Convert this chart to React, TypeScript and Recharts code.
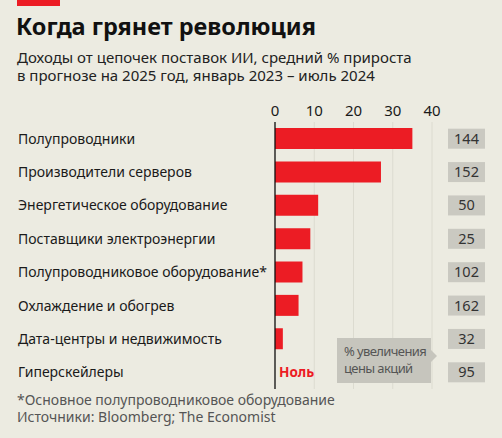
import React from 'react';
import { BarChart, Bar, XAxis, YAxis, CartesianGrid, ReferenceLine } from 'recharts';

const categories = [
  'Полупроводники',
  'Производители серверов',
  'Энергетическое оборудование',
  'Поставщики электроэнергии',
  'Полупроводниковое оборудование*',
  'Охлаждение и обогрев',
  'Дата-центры и недвижимость',
  'Гиперскейлеры',
];
const revenueGrowth = [35, 27, 11, 9, 7, 6, 2, 0];
const sharePriceIncrease = [144, 152, 50, 25, 102, 162, 32, 95];
const xTicks = [0, 10, 20, 30, 40];

const data = categories.map((name, i) => ({
  name,
  growth: revenueGrowth[i],
  shares: sharePriceIncrease[i],
}));

const FONT = '"Noto Sans", "Open Sans", sans-serif';
const RED = '#ec1c24';
const BG = '#ecebe1';
const PLOT_LEFT = 275;

function CategoryTick(props: any) {
  const { y, payload } = props;
  return (
    <text x={18} y={y} dy={5} fontSize={14} fill="#1a1a1a" fontFamily={FONT} textAnchor="start">
      {payload.value}
    </text>
  );
}

function ValueTick(props: any) {
  const { x, payload } = props;
  return (
    <text x={x} y={116} fontSize={15} fill="#1a1a1a" fontFamily={FONT} textAnchor="middle">
      {payload.value}
    </text>
  );
}

// right-hand axis: grey share-price boxes, plus the "Ноль" marker for zero bars
function ShareTick(props: any) {
  const { y, payload, index } = props;
  const zero = revenueGrowth[index] === 0;
  return (
    <g>
      <rect x={448} y={y - 10} width={37} height={20} fill="#cac9c1" />
      <text x={466.5} y={y + 5} fontSize={14.5} fill="#333" fontFamily={FONT} textAnchor="middle">
        {payload.value}
      </text>
      {zero && (
        <text x={PLOT_LEFT + 4} y={y + 5} fontSize={13.5} fontWeight={700} fill={RED} fontFamily={FONT}>
          Ноль
        </text>
      )}
    </g>
  );
}

const line = (top: number, size: number, color: string, h: number): React.CSSProperties => ({
  position: 'absolute',
  left: 17,
  top,
  fontSize: size,
  color,
  lineHeight: `${h}px`,
  height: h,
  whiteSpace: 'nowrap',
});

export default function App() {
  return (
    <div style={{ position: 'absolute', left: 0, top: 0, width: 502, height: 438, background: BG, fontFamily: FONT, overflow: 'hidden' }}>
      <div style={{ position: 'absolute', left: 17, top: 0, width: 43, height: 6, background: RED }} />
      <div style={{ position: 'absolute', left: 16, top: 11, fontSize: 23.5, fontWeight: 700, color: '#111', lineHeight: '30px' }}>
        Когда грянет революция
      </div>
      <div style={line(48, 15, '#222', 18)}>Доходы от цепочек поставок ИИ, средний % прироста</div>
      <div style={line(66, 15, '#222', 18)}>в прогнозе на 2025 год, январь 2023 – июль 2024</div>

      <BarChart
        width={502}
        height={438}
        data={data}
        layout="vertical"
        margin={{ top: 92, right: 0, bottom: 49, left: 18 }}
      >
        <CartesianGrid horizontal={false} stroke="#dcdbd0" />
        <XAxis
          type="number"
          orientation="top"
          domain={[0, 40]}
          ticks={xTicks}
          height={30}
          axisLine={false}
          tickLine={false}
          tick={<ValueTick />}
        />
        <YAxis
          yAxisId="left"
          type="category"
          dataKey="name"
          width={257}
          axisLine={false}
          tickLine={false}
          tick={<CategoryTick />}
        />
        <YAxis
          yAxisId="right"
          orientation="right"
          type="category"
          dataKey="shares"
          width={70}
          axisLine={false}
          tickLine={false}
          tick={<ShareTick />}
        />
        <Bar yAxisId="left" dataKey="growth" fill={RED} barSize={21} isAnimationActive={false} />
        <ReferenceLine yAxisId="left" x={0} stroke="#111" strokeWidth={1.3} />
      </BarChart>

      <div style={{ position: 'absolute', left: 337, top: 338, width: 94, height: 45, background: '#c6c5bd' }} />
      <div
        style={{
          position: 'absolute',
          left: 431,
          top: 350,
          width: 0,
          height: 0,
          borderTop: '6px solid transparent',
          borderBottom: '6px solid transparent',
          borderLeft: '6px solid #c6c5bd',
        }}
      />
      <div style={{ position: 'absolute', left: 344, top: 343, fontSize: 13, color: '#555', lineHeight: '17px', height: 17, letterSpacing: -0.6, whiteSpace: 'nowrap' }}>
        % увеличения
      </div>
      <div style={{ position: 'absolute', left: 344, top: 360, fontSize: 13, color: '#555', lineHeight: '17px', height: 17, letterSpacing: -0.6, whiteSpace: 'nowrap' }}>
        цены акций
      </div>

      <div style={line(391, 14, '#555', 17)}>*Основное полупроводниковое оборудование</div>
      <div style={line(408, 14, '#555', 17)}>Источники: Bloomberg; The Economist</div>
    </div>
  );
}
